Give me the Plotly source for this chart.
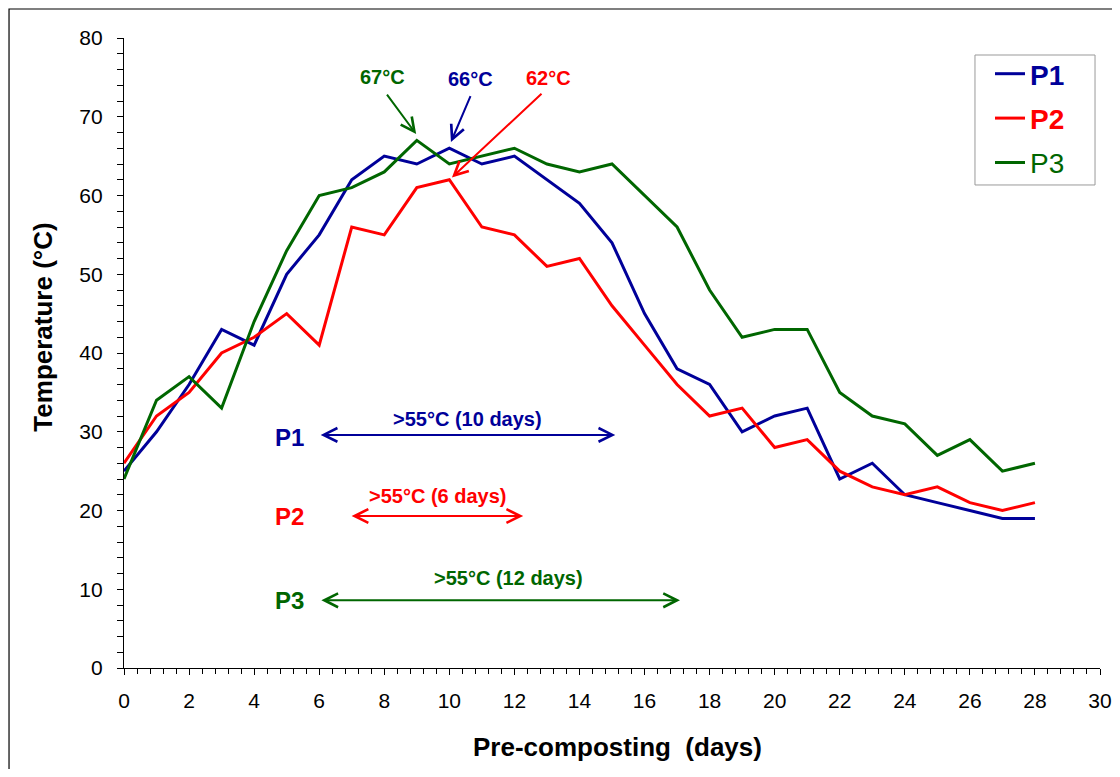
import plotly.graph_objects as go

days = list(range(0, 29))
p1 = [25, 30, 36, 43, 41, 50, 55, 62, 65, 64, 66, 64, 65, 62, 59, 54, 45, 38, 36, 30, 32, 33, 24, 26, 22, 21, 20, 19, 19]
p2 = [26, 32, 35, 40, 42, 45, 41, 56, 55, 61, 62, 56, 55, 51, 52, 46, 41, 36, 32, 33, 28, 29, 25, 23, 22, 23, 21, 20, 21]
p3 = [24, 34, 37, 33, 44, 53, 60, 61, 63, 67, 64, 65, 66, 64, 63, 64, 60, 56, 48, 42, 43, 43, 35, 32, 31, 27, 29, 25, 26]

series_names = ["P1", "P2", "P3"]
colors = ["#000099", "#FF0000", "#006600"]
peak_labels = ["66°C", "62°C", "67°C"]
range_labels = [">55°C (10 days)", ">55°C (6 days)", ">55°C (12 days)"]
x_title = "Pre-composting  (days)"
y_title = "Temperature (°C)"

FONT = "Liberation Sans, Arial, sans-serif"

fig = go.Figure()
for name, vals, col in zip(series_names, [p1, p2, p3], colors):
    weight = "<b>%s</b>" % name if name != "P3" else name
    fig.add_trace(go.Scatter(
        x=days, y=vals, mode="lines",
        line=dict(color=col, width=3),
        name="<span style='color:%s'>%s</span>" % (col, weight),
        legendgroup=name,
    ))

AW, AS = 2, 1.35
ann = []
# peak labels and arrows
peak_text_pos = [(10.64, 74.8), (13.06, 74.9), (7.96, 75.0)]
peak_arrows = [((10.67, 72.8), (10.05, 66.8)), ((12.88, 73.1), (10.08, 62.3)), ((8.05, 73.0), (8.98, 67.8))]
for lab, col, tp, (tail, head) in zip(peak_labels, colors, peak_text_pos, peak_arrows):
    ann.append(dict(x=tp[0], y=tp[1], xref="x", yref="y", text="<b>%s</b>" % lab,
                    showarrow=False, font=dict(family=FONT, size=20, color=col)))
    ann.append(dict(x=head[0], y=head[1], ax=tail[0], ay=tail[1], xref="x", yref="y",
                    axref="x", ayref="y", text="", showarrow=True, arrowhead=5,
                    arrowsize=AS, arrowwidth=AW, arrowcolor=col, standoff=0))

# thermophilic range arrows
range_arrow = [(6.0, 15.1, 29.6), (6.95, 12.27, 19.3), (6.02, 17.09, 8.6)]
range_text = [(10.57, 31.6), (9.65, 21.8), (11.83, 11.4)]
label_y = [29.3, 19.2, 8.6]
for name, col, ra, rt, ly, rl in zip(series_names, colors, range_arrow, range_text, label_y, range_labels):
    ann.append(dict(x=ra[1], y=ra[2], ax=ra[0], ay=ra[2], xref="x", yref="y",
                    axref="x", ayref="y", text="", showarrow=True, arrowhead=5,
                    startarrowhead=5, arrowside="end+start", arrowsize=AS,
                    startarrowsize=AS, arrowwidth=AW, arrowcolor=col,
                    standoff=0, startstandoff=0))
    ann.append(dict(x=rt[0], y=rt[1], xref="x", yref="y", text="<b>%s</b>" % rl,
                    showarrow=False, font=dict(family=FONT, size=20, color=col)))
    ann.append(dict(x=5.1, y=ly, xref="x", yref="y", text="<b>%s</b>" % name,
                    showarrow=False, font=dict(family=FONT, size=24, color=col)))

# axis titles
ann.append(dict(x=-0.0825, y=0.541, xref="paper", yref="paper", text="<b>%s</b>" % y_title,
                textangle=-90, showarrow=False, xanchor="center", yanchor="middle",
                font=dict(family=FONT, size=26, color="black")))
ann.append(dict(x=0.5056, y=-0.1254, xref="paper", yref="paper", text="<b>%s</b>" % x_title,
                showarrow=False, xanchor="center", yanchor="middle",
                font=dict(family=FONT, size=26, color="black")))

fig.update_layout(
    width=1104, height=761,
    margin=dict(l=116, r=12, t=30, b=101, autoexpand=False),
    paper_bgcolor="white", plot_bgcolor="white",
    font=dict(family=FONT, color="black"),
    annotations=ann,
    showlegend=True,
    legend=dict(x=(990 - 124) / 976, y=(668 - 49) / 630, xanchor="left", yanchor="top",
                borderwidth=0, bgcolor="rgba(0,0,0,0)",
                font=dict(family=FONT, size=28), itemwidth=30,
                tracegroupgap=5),
    shapes=[
        dict(type="rect", xref="paper", yref="paper",
             x0=-0.1178, x1=1.05, y0=-0.25, y1=1.046,
             line=dict(color="black", width=1.2), layer="below"),
        dict(type="rect", xref="paper", yref="paper",
             x0=0.8719, x1=0.9949, y0=0.7667, y1=0.973,
             line=dict(color="#999999", width=1), layer="above"),
    ],
)
fig.update_xaxes(
    range=[0, 30], dtick=2, tick0=0, showgrid=False, zeroline=False,
    showline=True, linecolor="black", linewidth=1.2, automargin=False,
    ticks="outside", ticklen=6, tickcolor="black",
    tickfont=dict(family=FONT, size=21), ticklabelstandoff=8,
    minor=dict(dtick=0.4, ticks="outside", ticklen=5, tickcolor="black"),
)
fig.update_yaxes(
    range=[0, 80], dtick=10, tick0=0, showgrid=False, zeroline=False,
    showline=True, linecolor="black", linewidth=1.2, automargin=False,
    ticks="outside", ticklen=6, tickcolor="black",
    tickfont=dict(family=FONT, size=21), ticklabelstandoff=10,
    minor=dict(dtick=2, ticks="outside", ticklen=6, tickcolor="black"),
)
fig.write_html("out.html")
